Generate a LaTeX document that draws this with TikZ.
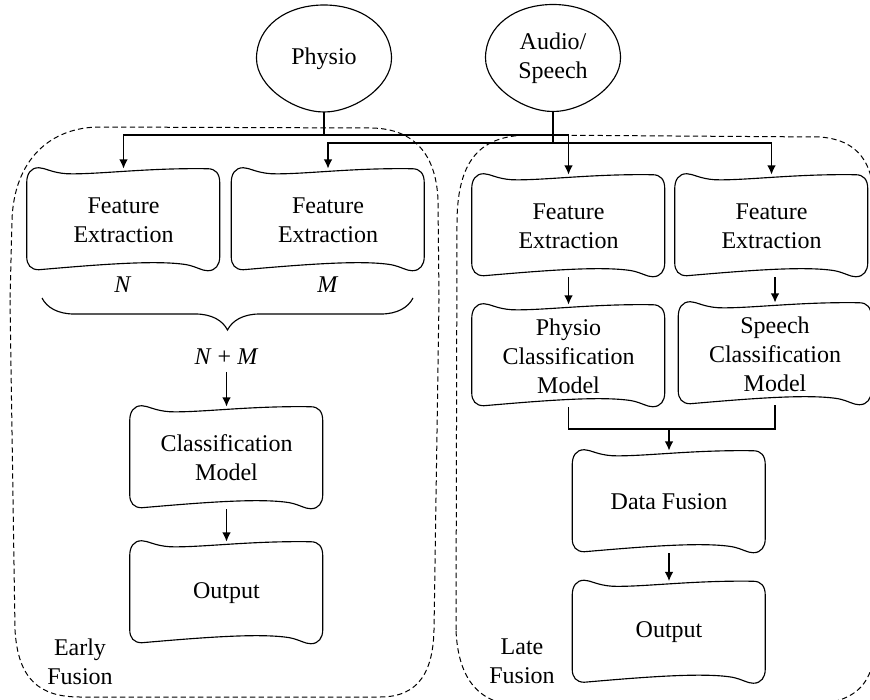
\documentclass[tikz,border=0pt]{standalone}
\usepackage{fontspec}
\setmainfont{Liberation Serif}
\usetikzlibrary{arrows.meta,decorations.pathreplacing,calc,shapes.geometric}

\tikzset{
  txt/.style={font=\fontsize{18}{21.75}\selectfont, align=center, inner sep=2pt},
  wbox/.style={txt, minimum width=144.75pt, minimum height=76.5pt, inner sep=0pt},
  src/.style={txt, ellipse, minimum width=101.25pt, minimum height=80.25pt, inner sep=0pt},
  boxline/.style={draw=black, line width=0.85pt, line join=round},
  conn/.style={draw=black, line width=1.3pt},
  arr/.style={conn, -{Latex[length=7pt,width=6.5pt]}},
  region/.style={draw=black, line width=0.75pt, dash pattern=on 4pt off 2.5pt},
  bracestyle/.style={draw=black, line width=0.85pt,
    decorate, decoration={brace, amplitude=24pt, mirror, aspect=0.5}},
}

% outline of a process box, drawn from the node's north west corner
\newcommand\wavybox[1]{%
  \draw[boxline, shift={(#1.north west)}]
    (0,14) -- (0,88) .. controls (0,96) and (4,101) .. (12,101)
    .. controls (70,96) and (130,91) .. (160,96)
    .. controls (170,98) and (175,102) .. (181,102)
    .. controls (189,102) and (193,96) .. (193,88) -- (193,14)
    .. controls (193,5) and (189,0) .. (181,0)
    .. controls (120,-1) and (70,6) .. (40,5)
    .. controls (25,4) and (18,-1) .. (12,-1)
    .. controls (4,-1) and (0,5) .. (0,14) -- cycle;}

% outline of a signal source, drawn around the node's centre
\newcommand\eggshape[1]{%
  \draw[boxline, shift={(#1.center)}]
    (0,-53.5) .. controls (38,-53.5) and (67.5,-32) .. (67.5,0)
    .. controls (67.5,28) and (30,53.5) .. (0,53.5)
    .. controls (-30,53.5) and (-67.5,28) .. (-67.5,0)
    .. controls (-67.5,-32) and (-38,-53.5) .. (0,-53.5) -- cycle;}

\begin{document}
\begin{tikzpicture}[x=0.75pt, y=-0.75pt]
\useasboundingbox (0,0) rectangle (870,699);

% fusion regions
\begin{scope}
  \clip (0,0) rectangle (870,699);
  \draw[region] (10,300) -- (15,630) .. controls (18,680) and (40,697) .. (80,697)
    -- (380,697) .. controls (420,697) and (433,670) .. (434,630)
    -- (439,300) -- (438,200) .. controls (436,150) and (410,128) .. (370,128)
    -- (100,127) .. controls (50,127) and (14,160) .. (12,220) -- cycle;
  \draw[region] (456,630) -- (457,220) .. controls (458,160) and (480,135) .. (530,135)
    -- (820,137) .. controls (860,140) and (873,165) .. (874,200)
    -- (875,640) .. controls (875,690) and (850,705) .. (800,705)
    -- (520,705) .. controls (480,705) and (458,680) .. (456,630) -- cycle;
\end{scope}

% sources
\node[src] (physio) at (324,58.5) {Physio};
\node[src] (audio) at (553,58) {Audio/\\Speech};
\eggshape{physio}
\eggshape{audio}

% early fusion branch
\node[wbox] (fe1) at (123.5,220) {Feature\\Extraction};
\node[wbox] (fe2) at (328,220) {Feature\\Extraction};
\node[txt] (nlab) at (123,285) {\textit{N}};
\node[txt] (mlab) at (328,285) {\textit{M}};
\coordinate (brl) at (42,298);
\coordinate (brr) at (413,298);
\draw[bracestyle] (brl) -- (brr);
\node[txt, inner sep=5pt] (nm) at (226.5,357) {\textit{N} + \textit{M}};
\node[wbox] (cm) at (226.5,458) {Classification\\Model};
\node[wbox] (out1) at (226.5,593) {Output};
\node[txt] (early) at (80,662) {Early\\Fusion};

% late fusion branch
\node[wbox] (fe3) at (568.5,226) {Feature\\Extraction};
\node[wbox] (fe4) at (771.5,226) {Feature\\Extraction};
\node[wbox] (pc) at (568.5,356) {Physio\\Classification\\Model};
\node[wbox] (sc) at (775,354) {Speech\\Classification\\Model};
\node[wbox] (df) at (669,502) {Data Fusion};
\node[wbox] (out2) at (669,632.5) {Output};
\node[txt] (late) at (522,661) {Late\\Fusion};

\foreach \b in {fe1,fe2,cm,out1,fe3,fe4,pc,sc,df,out2} {\wavybox{\b}}

% distribution of the signals
\coordinate (pj) at (324,135);
\coordinate (aj) at (553,143);
\draw[conn] (physio.south) -- (pj);
\draw[arr] (pj) -| (fe1.north);
\draw[arr] (pj) -| (fe3.north);
\draw[conn] (audio.south) -- (aj);
\draw[arr] (aj) -| (fe2.north);
\draw[arr] (aj) -| (fe4.north);

% early fusion flow
\draw[arr] (nm.south) -- (cm.north);
\draw[arr] (cm.south) -- (out1.north);

% late fusion flow
\draw[arr] (fe3.south) -- (pc.north);
\draw[arr] (sc.north |- fe4.south) -- (sc.north);
\coordinate (mj) at (669,429);
\draw[conn] (pc.south) |- (mj) -| (sc.south);
\draw[arr] (mj) -- (df.north);
\draw[arr] (df.south) -- (out2.north);
\end{tikzpicture}
\end{document}
